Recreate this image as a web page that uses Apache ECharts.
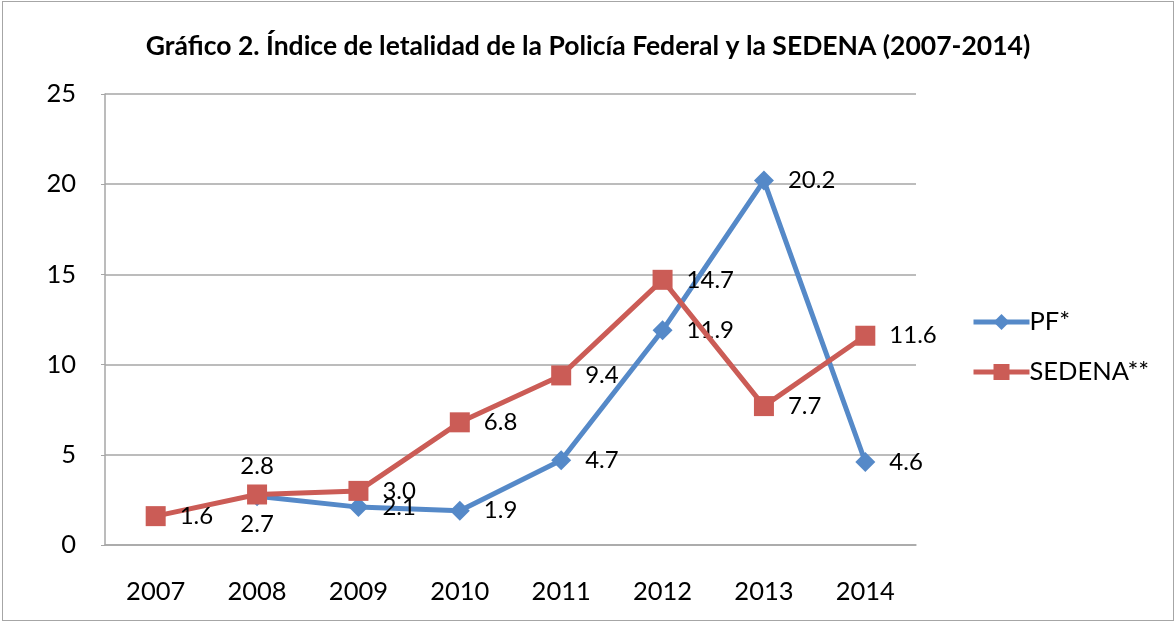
<!DOCTYPE html>
<html><head><meta charset="utf-8">
<script src="https://cdn.jsdelivr.net/npm/echarts@6/dist/echarts.min.js"></script>
<style>
html,body{margin:0;padding:0;background:#fff;}
#wrap{position:absolute;left:2px;top:1px;width:1172px;height:620px;border:1px solid #a6a6a6;box-sizing:border-box;}
#c{position:absolute;left:0;top:0;width:1176px;height:624px;}
</style></head>
<body><div id="wrap"></div><div id="c"></div>
<script>
const categories = ['2007','2008','2009','2010','2011','2012','2013','2014'];
const pfValues = [null, 2.7, 2.1, 1.9, 4.7, 11.9, 20.2, 4.6];
const sedenaValues = [1.6, 2.8, 3.0, 6.8, 9.4, 14.7, 7.7, 11.6];
const seriesNames = ['PF*', 'SEDENA**'];
const titleText = 'Gráfico 2. Índice de letalidad de la Policía Federal y la SEDENA (2007-2014)';

const FONT = 'Lato';
const BLUE = '#5589C8';
const RED = '#CB5C56';
function mk(vals, specialIdx, specialPos) {
  return vals.map((v, i) => {
    if (v === null) return null;
    if (i === specialIdx) return { value: v, label: { position: specialPos, distance: 6 } };
    return v;
  });
}
const chart = echarts.init(document.getElementById('c'));
chart.setOption({
  animation: false,
  title: { text: titleText, left: 'center', top: 28,
    textStyle: { fontFamily: FONT, fontWeight: 'bold', fontSize: 26.5, color: '#000' } },
  grid: { left: 105, right: 260, top: 94, bottom: 79 },
  legend: { orient: 'vertical', left: 966, top: 304, itemGap: 24, itemWidth: 56, itemHeight: 20,
    lineStyle: { width: 5 },
    textStyle: { fontFamily: FONT, fontSize: 25.5, color: '#000', padding: [0,0,0,-5] },
    data: seriesNames },
  xAxis: { type: 'category', data: categories, boundaryGap: true,
    axisLine: { lineStyle: { color: '#a6a6a6', width: 1.5 } }, axisTick: { show: false },
    axisLabel: { fontFamily: FONT, fontSize: 25.5, color: '#000', margin: 34 } },
  yAxis: { type: 'value', min: 0, max: 25, interval: 5,
    axisLine: { show: true, lineStyle: { color: '#a6a6a6', width: 1.5 } },
    axisTick: { show: true, length: 4, lineStyle: { color: '#a6a6a6' } },
    splitLine: { lineStyle: { color: '#a6a6a6', width: 1.5 } },
    axisLabel: { fontFamily: FONT, fontSize: 25.5, color: '#000', margin: 29 } },
  series: [
    { name: seriesNames[0], type: 'line', data: mk(pfValues, 1, 'bottom'), symbol: 'diamond', symbolSize: 20,
      color: BLUE, lineStyle: { width: 5 }, itemStyle: { color: BLUE }, z: 2,
      label: { show: true, position: 'right', distance: 14, fontFamily: FONT, fontSize: 24, color: '#000',
        formatter: p => p.value == null ? '' : Number(p.value).toFixed(1) } },
    { name: seriesNames[1], type: 'line', data: mk(sedenaValues, 1, 'top'), symbol: 'rect', symbolSize: 20,
      color: RED, lineStyle: { width: 5 }, itemStyle: { color: RED }, z: 3,
      label: { show: true, position: 'right', distance: 14, fontFamily: FONT, fontSize: 24, color: '#000',
        formatter: p => Number(p.value).toFixed(1) } }
  ]
});
</script></body></html>
